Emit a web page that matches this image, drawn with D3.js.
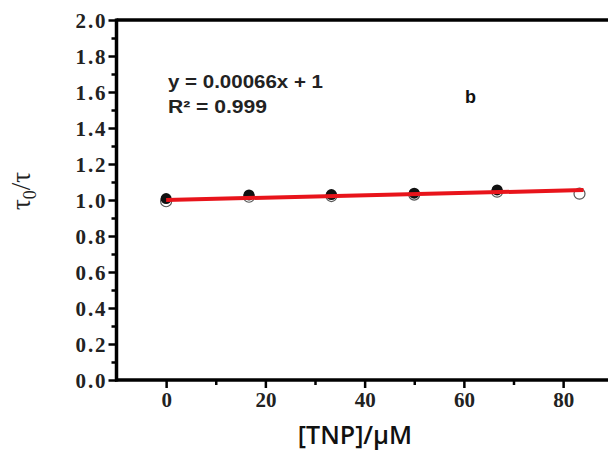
<!DOCTYPE html>
<html><head><meta charset="utf-8">
<script src="https://cdn.jsdelivr.net/npm/d3@7"></script>
<style>html,body{margin:0;padding:0;background:#fff;}svg{display:block;}</style>
</head><body>
<script>
// Data
const concentrations = [0, 16.7, 33.3, 50, 66.7, 83.3];
const ratioFilled = [1.008, 1.028, 1.030, 1.038, 1.056];
const ratioOpen = [0.993, 1.018, 1.022, 1.030, 1.046, 1.035];
const fitSlope = 0.00066, fitIntercept = 1;
const xTickValues = [0, 20, 40, 60, 80];
const xMinorTicks = [10, 30, 50, 70, 90];
const yTickValues = [0, 0.2, 0.4, 0.6, 0.8, 1.0, 1.2, 1.4, 1.6, 1.8, 2.0];
const yMinorTicks = [0.1, 0.3, 0.5, 0.7, 0.9, 1.1, 1.3, 1.5, 1.7, 1.9];
const eqLine1 = "y = 0.00066x + 1";
const eqLine2 = "R² = 0.999";
const panelLabel = "b";

const W = 608, H = 453;
const svg = d3.select("body").append("svg").attr("width", W).attr("height", H);

const x = d3.scaleLinear().domain([-10, 95]).range([116.5, 116.5 + 105 * 4.9625]);
const y = d3.scaleLinear().domain([0, 2]).range([380, 20]);

const serif = "'Liberation Serif','Times New Roman',serif";
const sans = "'Liberation Sans',Arial,sans-serif";

// Frame top line
svg.append("line").attr("x1", x(-10)).attr("x2", x(95)).attr("y1", y(2)).attr("y2", y(2))
  .attr("stroke", "#000").attr("stroke-width", 3.5);

// Y axis
const yAxis = svg.append("g").attr("transform", `translate(${x(-10)},0)`)
  .call(d3.axisLeft(y).tickValues(yTickValues).tickFormat(d3.format(".1f")).tickSize(8).tickPadding(3));
yAxis.select(".domain").attr("stroke-width", 3.5).attr("d", `M0,${y(0)+1.5}V${y(2)-1.5}`);
yAxis.selectAll(".tick line").attr("stroke-width", 2.5);
yAxis.selectAll(".tick text").attr("font-family", serif).attr("font-weight", "bold")
  .attr("font-size", 21).attr("fill", "#222").attr("dy", "0.34em")
  .attr("textLength", 30).attr("lengthAdjust", "spacing");
svg.append("g").attr("transform", `translate(${x(-10)},0)`)
  .call(d3.axisLeft(y).tickValues(yMinorTicks).tickSize(5).tickFormat(""))
  .call(g => g.select(".domain").remove())
  .selectAll(".tick line").attr("stroke-width", 2.5);

// X axis
const xAxis = svg.append("g").attr("transform", `translate(0,${y(0)})`)
  .call(d3.axisBottom(x).tickValues(xTickValues).tickFormat(d3.format("d")).tickSize(8).tickPadding(4));
xAxis.select(".domain").attr("stroke-width", 3.5).attr("d", `M${x(-10)-1.5},0H${x(95)}`);
xAxis.selectAll(".tick line").attr("stroke-width", 2.5);
xAxis.selectAll(".tick text").attr("font-family", serif).attr("font-weight", "bold")
  .attr("font-size", 21).attr("fill", "#222");
svg.append("g").attr("transform", `translate(0,${y(0)})`)
  .call(d3.axisBottom(x).tickValues(xMinorTicks).tickSize(5).tickFormat(""))
  .call(g => g.select(".domain").remove())
  .selectAll(".tick line").attr("stroke-width", 2.5);

// Open circles
svg.append("g").selectAll("circle").data(ratioOpen).join("circle")
  .attr("cx", (d, i) => x(concentrations[i])).attr("cy", d => y(d)).attr("r", 5.5)
  .attr("fill", "#fff").attr("stroke", "#555").attr("stroke-width", 1.2);
// Filled circles
svg.append("g").selectAll("circle").data(ratioFilled).join("circle")
  .attr("cx", (d, i) => x(concentrations[i])).attr("cy", d => y(d)).attr("r", 5.5)
  .attr("fill", "#111");

// Fit line
const fitX = [concentrations[0], concentrations[concentrations.length - 1]];
svg.append("line")
  .attr("x1", x(fitX[0])).attr("y1", y(fitIntercept + fitSlope * fitX[0]))
  .attr("x2", x(fitX[1]) + 4).attr("y2", y(fitIntercept + fitSlope * fitX[1]))
  .attr("stroke", "#e8141b").attr("stroke-width", 4);

// Equation
svg.append("text").attr("x", 168).attr("y", 88).attr("font-family", sans).attr("font-weight", "bold")
  .attr("font-size", 18).attr("fill", "#222").attr("textLength", 155).attr("lengthAdjust", "spacingAndGlyphs").text(eqLine1);
svg.append("text").attr("x", 168).attr("y", 113).attr("font-family", sans).attr("font-weight", "bold")
  .attr("font-size", 18).attr("fill", "#222").attr("textLength", 99).attr("lengthAdjust", "spacingAndGlyphs").text(eqLine2);
svg.append("text").attr("x", 465).attr("y", 103).attr("font-family", sans).attr("font-weight", "bold")
  .attr("font-size", 18).attr("fill", "#111").text(panelLabel);

// X title
svg.append("text").attr("x", 355).attr("y", 444).attr("text-anchor", "middle")
  .attr("font-family", "'Open Sans',sans-serif").attr("font-weight", 600)
  .attr("font-size", 25).attr("fill", "#111").text("[TNP]/μM");

// Y title
const yt = svg.append("text").attr("transform", "translate(30,191) rotate(-90)")
  .attr("text-anchor", "middle").attr("font-family", serif).attr("font-size", 27).attr("fill", "#222");
yt.append("tspan").text("τ");
yt.append("tspan").attr("font-size", 18).attr("dy", 6).text("0");
yt.append("tspan").attr("dy", -6).text("/τ");
</script>
</body></html>
